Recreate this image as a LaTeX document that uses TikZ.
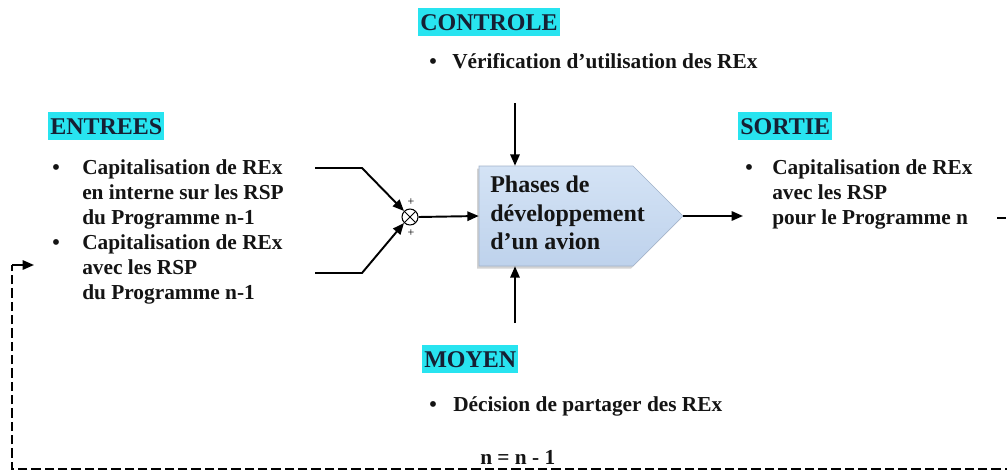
\documentclass[tikz,border=0pt]{standalone}
\usepackage{fontspec}
\setmainfont{Liberation Serif}
\usetikzlibrary{arrows.meta,shapes.symbols,shadows,calc}
\definecolor{headcyan}{RGB}{40,228,240}
\definecolor{headtext}{RGB}{22,32,52}
\definecolor{boxtop}{RGB}{212,227,245}
\definecolor{boxbot}{RGB}{190,210,236}
\begin{document}
\begin{tikzpicture}[x=0.75pt,y=-0.75pt,
 item/.style={font=\fontsize{16}{18}\selectfont\bfseries, inner sep=0pt, anchor=base west, text=black!92},
 bul/.style={item, anchor=base},
 boxtext/.style={font=\fontsize{18}{21}\selectfont\bfseries, inner sep=0pt, anchor=base west, text=black!92},
 heading/.style={fill=headcyan, text=headtext, font=\fontsize{18}{20}\selectfont\bfseries, inner xsep=1.5pt, inner ysep=0pt, minimum height=21pt, text height=11.9pt, text depth=0pt, anchor=north west},
 arr/.style={line width=1.45pt, -{Triangle[length=8.5pt,width=7pt]}},
 fb/.style={line width=1.4pt, dash pattern=on 7pt off 3pt},
 plus/.style={font=\fontsize{9}{9}\selectfont, inner sep=0pt},
 phase/.style={shape=signal, signal to=east, signal from=nowhere, signal pointer angle=90, inner sep=0pt, minimum width=153pt, minimum height=75pt, top color=boxtop, bottom color=boxbot, draw=boxbot!85!black, line width=0.4pt, drop shadow={shadow xshift=-1.5pt, shadow yshift=-2pt, opacity=0.35}},
 summer/.style={circle, draw, line width=0.8pt, minimum size=12pt, inner sep=0pt, fill=white,
   path picture={\draw[line width=0.6pt] (path picture bounding box.north west) -- (path picture bounding box.south east) (path picture bounding box.north east) -- (path picture bounding box.south west);}},
]
\useasboundingbox (0,0) rectangle (1007,475);

% ---- CONTROLE
\node[heading] (hctl) at (418,8) {CONTROLE};
\node[bul] (bctl) at (433,68) {•};
\node[item] (tctl) at (452,68) {Vérification d’utilisation des REx};

% ---- ENTREES
\node[heading] (hin) at (48,112) {ENTREES};
\node[bul] (bin1) at (56,174) {•};
\node[item] (in1a) at (82,174) {Capitalisation de REx};
\node[item] (in1b) at (82,199) {en interne sur les RSP};
\node[item] (in1c) at (82,224) {du Programme n-1};
\node[bul] (bin2) at (56,249) {•};
\node[item] (in2a) at (82,249) {Capitalisation de REx};
\node[item] (in2b) at (82,274) {avec les RSP};
\node[item] (in2c) at (82,299) {du Programme n-1};

% ---- SORTIE
\node[heading] (hout) at (738,112) {SORTIE};
\node[bul] (bout) at (749,174) {•};
\node[item] (outa) at (772,174) {Capitalisation de REx};
\node[item] (outb) at (772,199) {avec les RSP};
\node[item] (outc) at (772,224) {pour le Programme n};

% ---- MOYEN
\node[heading] (hmoy) at (422,345) {MOYEN};
\node[bul] (bmoy) at (433,411) {•};
\node[item] (tmoy) at (453,411) {Décision de partager des REx};

\node[item] (loop) at (480,464) {n = n - 1};

% ---- central box
\node[phase] (box) at (556,216) {};
\node[boxtext] (ph1) at (490,192) {Phases de};
\node[boxtext] (ph2) at (490,221) {développement};
\node[boxtext] (ph3) at (490,249) {d’un avion};

% ---- summing junction
\node[summer] (sum) at (410,217) {};
\node[plus] (p1) at (411,202) {+};
\node[plus] (p2) at (411,233) {+};

% ---- connectors
\coordinate (e1) at (315,168);
\coordinate (e1k) at (362,168);
\coordinate (e2) at (315,273);
\coordinate (e2k) at (362,273);
\draw[arr] (e1) -- (e1k) -- (sum.135);
\draw[arr] (e2) -- (e2k) -- (sum.225);
\draw[arr] (sum.east) -- (box.west);

\coordinate (ctl) at (515,103);
\draw[arr] (ctl) -- (ctl |- box.north);
\coordinate (moy) at (515,323);
\draw[arr] (moy) -- (moy |- box.south);

\coordinate (outend) at (743,216);
\draw[arr] (box.east) -- (outend);

% ---- feedback loop (partly outside the frame)
\coordinate (fbs) at (997,218);
\coordinate (fbr) at (1040,218);
\coordinate (fbrb) at (1040,469);
\coordinate (fbl) at (12,469);
\coordinate (fbc) at (12,265);
\coordinate (fbe) at (34,265);
\draw[fb] (fbs) -- (fbr) -- (fbrb) -- (fbl) -- (fbc);
\draw[arr] (fbc) -- (fbe);
\end{tikzpicture}
\end{document}
